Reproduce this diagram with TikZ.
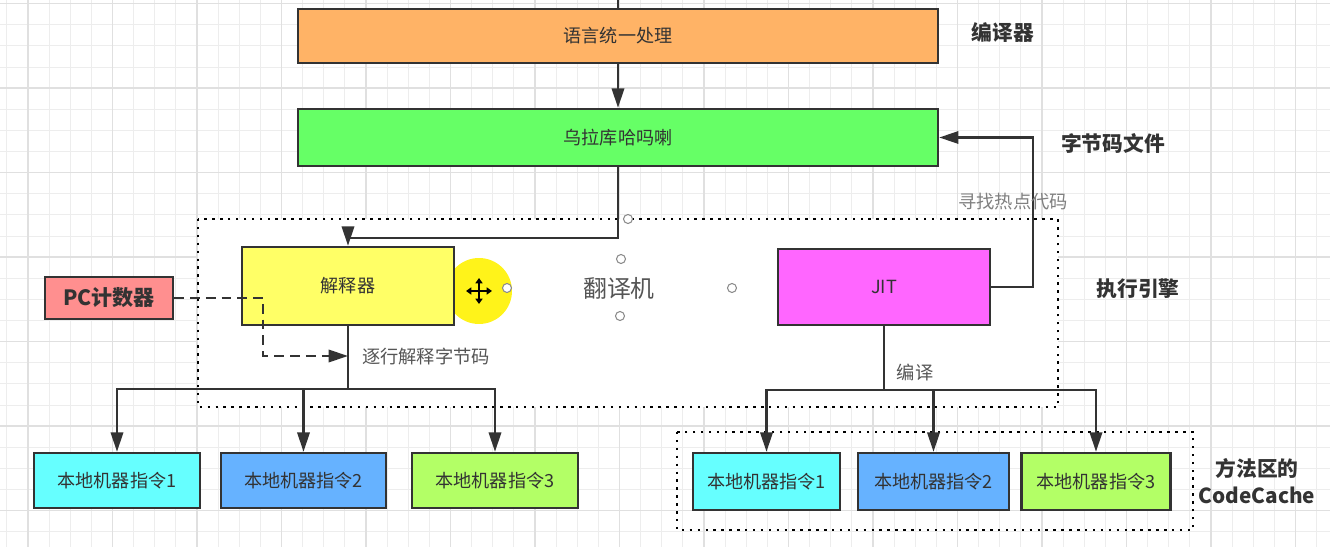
\documentclass[tikz,border=0pt]{standalone}
\usepackage{fontspec}
\setmainfont{Noto Sans CJK SC}
\usepackage{xcolor}
\usepackage{tikz}
\usetikzlibrary{arrows.meta, positioning, calc}
\definecolor{linec}{HTML}{333333}
\definecolor{notec}{HTML}{555555}
\colorlet{gridminor}{black!7}
\colorlet{gridmajor}{black!12}
\definecolor{orangebox}{HTML}{FFB366}
\definecolor{greenbox}{HTML}{66FF66}
\definecolor{yellowbox}{HTML}{FFFF66}
\definecolor{pinkbox}{HTML}{FF66FF}
\definecolor{redbox}{HTML}{FF8F8F}
\definecolor{cyanbox}{HTML}{66FFFF}
\definecolor{bluebox}{HTML}{66B2FF}
\definecolor{limebox}{HTML}{B3FF66}
\tikzset{
  blk/.style={draw=linec, line width=1.4pt, text=linec, inner sep=0pt,
    font=\fontsize{10.3}{12}\selectfont},
  tag/.style={text=linec, align=center, font=\bfseries\fontsize{11.8}{15}\selectfont},
  note/.style={text=notec, inner sep=1pt, font=\fontsize{10.4}{12}\selectfont},
  wire/.style={draw=linec, line width=1.4pt},
  arr/.style={wire, -{Triangle[length=11pt,width=7pt]}},
  dasharr/.style={arr, dash pattern=on 5.5pt off 3.5pt},
  dotframe/.style={draw=black, line width=1.4pt, dash pattern=on 1.4pt off 3.1pt},
  handle/.style={draw=black!45, line width=0.6pt, fill=white},
}

\begin{document}
\begin{tikzpicture}[x=0.02cm, y=-0.02cm]
  \useasboundingbox (0,0) rectangle (1330,547);
  % grid paper
  \foreach \i in {0,...,63} { \draw[gridminor, line width=0.5pt] ({6.9+21.125*\i},0) -- ++(0,547); }
  \foreach \i in {0,...,26} { \draw[gridminor, line width=0.5pt] (0,{3.6+21.125*\i}) -- ++(1330,0); }
  \foreach \i in {0,...,15} { \draw[gridmajor, line width=0.6pt] ({28+84.5*\i},0) -- ++(0,547); }
  \foreach \i in {0,...,6} { \draw[gridmajor, line width=0.6pt] (0,{3.5+84.5*\i}) -- ++(1330,0); }

  % execution engine frame
  \fill[white] (198,219) rectangle (1058,407);
  \draw[dotframe] (198,219) rectangle (1058,407);
  \draw[dotframe] (677,432) rectangle (1193,530);

  % highlight left by the screen cursor
  \fill[yellow!90!white] (479,291) circle[radius=0.66cm];

  \node[blk, fill=orangebox, minimum width=12.8cm, minimum height=1.08cm] (lang) at (618,36) {语言统一处理};
  \node[blk, fill=greenbox, minimum width=12.8cm, minimum height=1.14cm] (bytec) at (618,137.5) {乌拉库哈吗喇};
  \node[blk, fill=yellowbox, minimum width=4.24cm, minimum height=1.56cm] (interp) at (348,286) {解释器};
  \node[blk, fill=pinkbox, minimum width=4.24cm, minimum height=1.52cm] (jit) at (884,287) {JIT};
  \node[blk, fill=redbox, minimum width=2.56cm, minimum height=0.84cm,
    font=\bfseries\fontsize{12}{14}\selectfont] (pc) at (109,298) {PC计数器};
  \node[text=notec, font=\fontsize{13.6}{16}\selectfont] (trans) at (619,288) {翻译机};

  \node[blk, fill=cyanbox, minimum width=3.32cm, minimum height=1.1cm] (l1) at (117,480.5) {本地机器指令1};
  \node[blk, fill=bluebox, minimum width=3.3cm, minimum height=1.1cm] (l2) at (303.5,480.5) {本地机器指令2};
  \node[blk, fill=limebox, minimum width=3.32cm, minimum height=1.1cm] (l3) at (495,480.5) {本地机器指令3};
  \node[blk, fill=cyanbox, minimum width=2.94cm, minimum height=1.14cm] (r1) at (766.5,481.5) {本地机器指令1};
  \node[blk, fill=bluebox, minimum width=3.02cm, minimum height=1.14cm] (r2) at (933.5,481.5) {本地机器指令2};
  \node[blk, fill=limebox, minimum width=2.98cm, minimum height=1.14cm] (r3) at (1096,481.5) {本地机器指令3};

  % side titles
  \node[tag] (tcomp) at (1003,33) {编译器};
  \node[tag] (tbyte) at (1113,143) {字节码文件};
  \node[tag] (texec) at (1138,289) {执行引擎};
  \node[tag] (tcache) at (1257,481) {方法区的\\CodeCache};

  % connectors
  \coordinate (src) at (618,0);
  \draw[wire] (src) -- (lang.north);
  \draw[arr] (lang.south) -- (bytec.north);
  \draw[arr] (bytec.south) -- ++(0,71) -| (interp.north);
  \draw[arr] (jit.east) -- ++(42,0) |- (bytec.east);
  \node[note, text=black!50] (hot) at (1013,202) {寻找热点代码};

  \coordinate (ibr) at ($(interp.south)+(0,63)$);
  \draw[wire] (interp.south) -- (ibr);
  \foreach \b in {l1,l2,l3} { \draw[arr] (ibr) -| (\b.north); }
  \draw[dasharr] (pc.east) -- ++(89,0) |- (interp.south |- 0,356);
  \node[note, anchor=west] (step) at (360,357) {逐行解释字节码};

  \coordinate (jbr) at ($(jit.south)+(0,64)$);
  \draw[wire] (jit.south) -- (jbr);
  \foreach \b in {r1,r2,r3} { \draw[arr] (jbr) -| (\b.north); }
  \node[note] (comp) at (915,373) {编译};

  % move cursor and selection handles
  \draw[black, line width=0.9pt, {Triangle[length=3pt,width=4pt]}-{Triangle[length=3pt,width=4pt]}] (466,291) -- (492,291);
  \draw[black, line width=0.9pt, {Triangle[length=3pt,width=4pt]}-{Triangle[length=3pt,width=4pt]}] (479,278) -- (479,304);
  \foreach \p in {(507,288),(732,288),(620,316),(621,259),(628,219)} { \draw[handle] \p circle[radius=0.09cm]; }
\end{tikzpicture}
\end{document}
